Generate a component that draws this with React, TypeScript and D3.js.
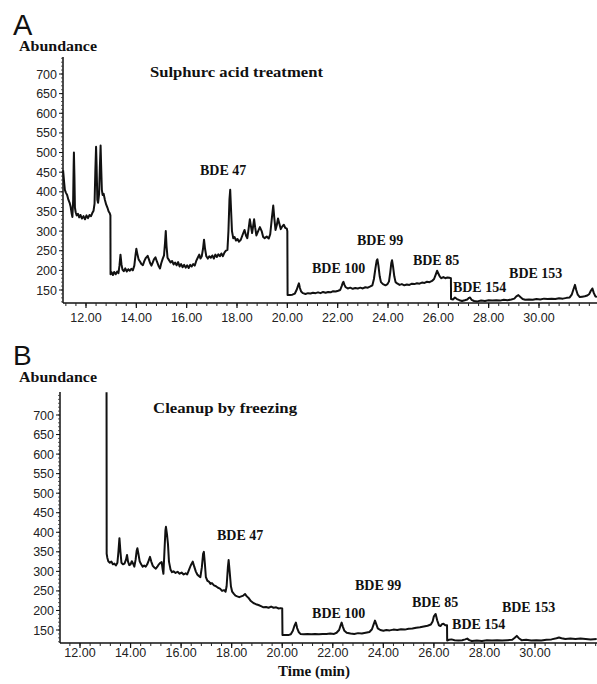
import * as d3 from "d3";

// retention time (min), abundance
const traceA: [number, number][] = [
  [11.09, 455], [11.11, 440], [11.13, 425], [11.16, 405], [11.2, 398], [11.25, 392], [11.3, 380], [11.35, 372],
  [11.39, 362], [11.43, 345], [11.46, 336], [11.49, 380], [11.51, 470], [11.52, 500], [11.54, 440], [11.56, 360],
  [11.59, 348], [11.63, 340], [11.68, 344], [11.73, 335], [11.78, 341], [11.84, 332], [11.9, 338], [11.96, 330],
  [12.02, 340], [12.08, 333], [12.14, 341], [12.2, 338], [12.25, 346], [12.3, 352], [12.34, 370], [12.37, 450],
  [12.4, 515], [12.42, 470], [12.45, 380], [12.48, 372], [12.52, 395], [12.55, 460], [12.58, 518], [12.6, 470],
  [12.63, 405], [12.66, 392], [12.7, 395], [12.75, 380], [12.8, 368], [12.85, 360], [12.9, 350], [12.94, 346],
  [12.97, 340], [12.975, 190], [13.02, 195], [13.07, 188], [13.12, 196], [13.18, 190], [13.24, 197], [13.29, 193],
  [13.33, 212], [13.37, 240], [13.41, 215], [13.45, 202], [13.5, 198], [13.56, 205], [13.62, 197], [13.68, 203],
  [13.74, 199], [13.8, 204], [13.86, 200], [13.92, 212], [13.97, 240], [14.0, 255], [14.04, 242], [14.09, 228],
  [14.15, 222], [14.2, 216], [14.26, 213], [14.32, 224], [14.38, 232], [14.45, 237], [14.5, 228], [14.55, 218],
  [14.6, 212], [14.65, 220], [14.7, 228], [14.76, 233], [14.82, 222], [14.88, 212], [14.94, 205], [14.99, 218],
  [15.05, 230], [15.1, 238], [15.14, 270], [15.17, 300], [15.2, 262], [15.24, 232], [15.3, 226], [15.36, 220],
  [15.42, 224], [15.48, 215], [15.54, 220], [15.6, 213], [15.66, 221], [15.72, 210], [15.78, 216], [15.84, 208],
  [15.9, 214], [15.96, 207], [16.02, 213], [16.08, 206], [16.14, 214], [16.2, 210], [16.26, 216], [16.32, 212],
  [16.38, 224], [16.44, 232], [16.5, 240], [16.55, 230], [16.6, 236], [16.65, 255], [16.69, 278], [16.73, 255],
  [16.78, 236], [16.84, 230], [16.9, 236], [16.96, 232], [17.02, 238], [17.08, 230], [17.14, 240], [17.2, 234],
  [17.26, 241], [17.32, 236], [17.38, 243], [17.44, 236], [17.5, 245], [17.56, 250], [17.62, 252], [17.66, 300],
  [17.7, 380], [17.73, 405], [17.76, 360], [17.8, 300], [17.85, 282], [17.9, 285], [17.96, 276], [18.02, 280],
  [18.08, 273], [18.15, 278], [18.22, 290], [18.3, 303], [18.36, 288], [18.41, 282], [18.46, 305], [18.51, 330],
  [18.56, 310], [18.6, 295], [18.64, 312], [18.68, 330], [18.72, 310], [18.77, 289], [18.84, 300], [18.91, 310],
  [18.98, 300], [19.04, 285], [19.1, 282], [19.18, 286], [19.26, 281], [19.32, 292], [19.38, 330], [19.44, 365],
  [19.48, 335], [19.53, 303], [19.58, 315], [19.63, 332], [19.68, 320], [19.74, 305], [19.8, 312], [19.86, 316],
  [19.92, 308], [19.98, 306], [20.0, 300], [20.01, 137], [20.1, 137], [20.2, 138], [20.3, 141], [20.38, 152],
  [20.43, 162], [20.46, 167], [20.5, 155], [20.55, 146], [20.62, 142], [20.72, 140], [20.82, 142], [20.92, 141],
  [21.02, 143], [21.12, 142], [21.22, 144], [21.32, 142], [21.42, 145], [21.52, 143], [21.62, 145], [21.72, 144],
  [21.82, 147], [21.92, 146], [22.02, 148], [22.1, 150], [22.16, 160], [22.2, 168], [22.23, 171], [22.27, 163],
  [22.32, 157], [22.4, 154], [22.5, 156], [22.6, 153], [22.7, 155], [22.8, 154], [22.9, 156], [23.0, 154],
  [23.1, 157], [23.2, 156], [23.3, 159], [23.38, 162], [23.44, 178], [23.5, 205], [23.55, 225], [23.58, 228],
  [23.62, 212], [23.67, 185], [23.72, 170], [23.8, 165], [23.9, 162], [23.98, 165], [24.04, 172], [24.09, 195],
  [24.13, 218], [24.16, 226], [24.2, 210], [24.25, 185], [24.3, 170], [24.38, 166], [24.46, 163], [24.55, 165],
  [24.65, 162], [24.75, 164], [24.85, 163], [24.95, 166], [25.05, 165], [25.15, 167], [25.25, 166], [25.35, 169],
  [25.45, 168], [25.55, 171], [25.65, 170], [25.75, 173], [25.83, 178], [25.9, 190], [25.95, 199], [26.0, 192],
  [26.06, 184], [26.12, 180], [26.2, 183], [26.28, 180], [26.36, 182], [26.44, 181], [26.5, 180], [26.505, 127],
  [26.58, 126], [26.66, 131], [26.74, 127], [26.84, 124], [26.94, 122], [27.05, 124], [27.15, 126], [27.22, 130],
  [27.26, 131], [27.32, 125], [27.42, 122], [27.55, 121], [27.7, 123], [27.85, 122], [28.0, 124], [28.15, 123],
  [28.3, 124], [28.45, 123], [28.6, 125], [28.75, 124], [28.9, 126], [29.02, 128], [29.1, 134], [29.18, 137],
  [29.26, 132], [29.35, 127], [29.45, 125], [29.6, 126], [29.75, 125], [29.9, 127], [30.05, 126], [30.2, 128],
  [30.35, 127], [30.5, 128], [30.65, 127], [30.8, 129], [30.95, 128], [31.1, 130], [31.22, 131], [31.3, 138],
  [31.37, 152], [31.43, 163], [31.48, 150], [31.54, 138], [31.62, 132], [31.72, 133], [31.82, 134], [31.92, 136],
  [32.0, 140], [32.06, 148], [32.12, 154], [32.18, 142], [32.24, 134], [32.3, 132],
];

const traceB: [number, number][] = [
  [13.05, 758], [13.055, 345], [13.08, 335], [13.12, 326], [13.18, 322], [13.24, 325], [13.3, 318], [13.36, 320],
  [13.42, 315], [13.48, 322], [13.52, 350], [13.56, 385], [13.6, 350], [13.64, 322], [13.7, 318], [13.76, 320],
  [13.82, 330], [13.86, 342], [13.9, 325], [13.95, 316], [14.0, 318], [14.05, 326], [14.1, 320], [14.15, 312],
  [14.2, 330], [14.24, 352], [14.27, 359], [14.31, 345], [14.36, 326], [14.42, 318], [14.48, 312], [14.54, 315],
  [14.6, 312], [14.66, 318], [14.72, 328], [14.77, 337], [14.82, 325], [14.88, 314], [14.94, 310], [15.0, 307],
  [15.06, 312], [15.12, 318], [15.18, 322], [15.23, 324], [15.27, 305], [15.3, 294], [15.34, 350], [15.38, 405],
  [15.4, 414], [15.44, 395], [15.48, 370], [15.52, 325], [15.58, 305], [15.64, 298], [15.7, 300], [15.78, 296],
  [15.86, 299], [15.94, 294], [16.02, 297], [16.1, 292], [16.18, 295], [16.24, 292], [16.3, 302], [16.38, 315],
  [16.46, 325], [16.52, 312], [16.58, 300], [16.64, 292], [16.7, 288], [16.76, 285], [16.82, 310], [16.87, 345],
  [16.9, 350], [16.94, 320], [16.98, 285], [17.04, 276], [17.1, 274], [17.16, 268], [17.22, 270], [17.3, 264],
  [17.38, 262], [17.46, 258], [17.54, 256], [17.62, 250], [17.7, 252], [17.76, 248], [17.8, 262], [17.85, 310],
  [17.88, 329], [17.92, 300], [17.97, 262], [18.02, 248], [18.08, 243], [18.15, 238], [18.22, 236], [18.3, 234],
  [18.38, 236], [18.46, 238], [18.53, 242], [18.6, 236], [18.68, 231], [18.76, 224], [18.86, 219], [18.96, 216],
  [19.06, 214], [19.16, 211], [19.26, 208], [19.36, 209], [19.46, 207], [19.56, 210], [19.66, 207], [19.76, 208],
  [19.86, 205], [19.94, 206], [20.0, 205], [20.01, 137], [20.12, 137], [20.24, 137], [20.34, 139], [20.42, 148],
  [20.49, 162], [20.54, 169], [20.59, 155], [20.65, 145], [20.72, 140], [20.85, 139], [21.0, 140], [21.15, 139],
  [21.3, 140], [21.45, 139], [21.6, 140], [21.75, 140], [21.9, 141], [22.05, 140], [22.15, 143], [22.25, 150],
  [22.31, 162], [22.35, 169], [22.4, 158], [22.46, 148], [22.55, 143], [22.7, 141], [22.85, 140], [23.0, 142],
  [23.15, 141], [23.3, 143], [23.45, 145], [23.55, 152], [23.62, 165], [23.67, 174], [23.72, 165], [23.78, 154],
  [23.88, 150], [24.0, 148], [24.12, 150], [24.25, 149], [24.4, 151], [24.55, 150], [24.7, 152], [24.85, 151],
  [25.0, 153], [25.15, 154], [25.3, 156], [25.45, 157], [25.6, 159], [25.75, 161], [25.88, 164], [25.95, 172],
  [26.0, 185], [26.07, 191], [26.13, 175], [26.2, 162], [26.26, 160], [26.32, 165], [26.38, 166], [26.45, 162],
  [26.52, 162], [26.525, 123], [26.6, 125], [26.7, 126], [26.82, 124], [26.97, 123], [27.12, 124], [27.24, 126],
  [27.32, 128], [27.4, 124], [27.5, 122], [27.7, 123], [27.9, 122], [28.1, 124], [28.3, 123], [28.5, 124],
  [28.7, 123], [28.9, 124], [29.1, 125], [29.2, 130], [29.28, 135], [29.36, 129], [29.47, 124], [29.65, 125],
  [29.85, 123], [30.05, 124], [30.25, 123], [30.45, 125], [30.65, 126], [30.85, 129], [30.95, 131], [31.05, 129],
  [31.2, 127], [31.4, 128], [31.6, 127], [31.8, 128], [32.0, 127], [32.2, 126], [32.44, 127],
];

const yTickValues = [150, 200, 250, 300, 350, 400, 450, 500, 550, 600, 650, 700];
const xTickValues = [12, 14, 16, 18, 20, 22, 24, 26, 28, 30];
const peakNames = ["BDE 47", "BDE 100", "BDE 99", "BDE 85", "BDE 154", "BDE 153"];
const panelLetters = ["A", "B"];
const panelTitles = ["Sulphurc acid treatment", "Cleanup by freezing"];

// label anchors (left, baseline) in data units, same order as peakNames
const peakPosA: [number, number][] = [[16.53, 443], [20.98, 193], [22.77, 265], [24.99, 214], [26.58, 145], [28.81, 181]];
const peakPosB: [number, number][] = [[17.42, 380], [21.18, 181], [22.88, 252], [25.13, 209], [26.72, 153], [28.69, 196]];

const W = 597;
const H = 684;
const serif = "'Liberation Serif', 'DejaVu Serif', serif";
const sans = "'Liberation Sans', Arial, sans-serif";

const panels = [
  {
    trace: traceA, peaks: peakPosA, title: [14.54, 692] as [number, number], titleLen: 173,
    left: 63, right: 597, top: 57, bottom: 303,
    xRef: [86, 539], yRef: [290, 74],
    letterY: 35, letterSize: 29, abundY: 51, xLabelY: 322,
  },
  {
    trace: traceB, peaks: peakPosB, title: [14.89, 705] as [number, number], titleLen: 144,
    left: 60, right: 597, top: 392, bottom: 643,
    xRef: [80, 535], yRef: [630, 415],
    letterY: 365, letterSize: 28, abundY: 382, xLabelY: 657,
  },
];

function Panel({ p, i }: { p: (typeof panels)[number]; i: number }) {
  const x = d3.scaleLinear().domain([12, 30]).range(p.xRef);
  const y = d3.scaleLinear().domain([150, 700]).range(p.yRef);
  const tMin = x.invert(p.left);
  const tMax = x.invert(p.right);
  const vMin = y.invert(p.bottom);
  const vMax = y.invert(p.top);

  const line = d3
    .line<[number, number]>()
    .x((d) => x(d[0]))
    .y((d) => y(Math.min(d[1], vMax)));

  const minorX = d3.range(11.2, 32.6, 0.4).filter((t) => t >= tMin && t <= tMax);
  const minorY = d3.range(120, 760, 10).filter((v) => v >= vMin && v <= vMax);

  return (
    <g>
      <text x={13} y={p.letterY} fontFamily={sans} fontSize={p.letterSize} fill="#111">
        {panelLetters[i]}
      </text>
      <text x={19} y={p.abundY} fontFamily={serif} fontWeight="bold" fontSize={15}
        textLength={78} lengthAdjust="spacingAndGlyphs" fill="#111">
        Abundance
      </text>
      <text x={x(p.title[0])} y={y(p.title[1])} fontFamily={serif} fontWeight="bold" fontSize={15}
        textLength={p.titleLen} lengthAdjust="spacingAndGlyphs" fill="#111">
        {panelTitles[i]}
      </text>

      {/* y axis */}
      <line x1={p.left} x2={p.left} y1={p.top} y2={p.bottom} stroke="#111" strokeWidth={1.5} />
      {minorY.map((v) => (
        <line key={"my" + v} x1={p.left - 2} x2={p.left} y1={y(v)} y2={y(v)} stroke="#333" strokeWidth={0.8} />
      ))}
      {yTickValues.map((v) => (
        <g key={"y" + v}>
          <line x1={p.left - 4} x2={p.left} y1={y(v)} y2={y(v)} stroke="#111" strokeWidth={1} />
          <text x={p.left - 6} y={y(v)} dy="0.36em" textAnchor="end" fontFamily={sans} fontSize={12.5} fill="#222">
            {v}
          </text>
        </g>
      ))}

      {/* x axis */}
      <line x1={p.left} x2={p.right} y1={p.bottom} y2={p.bottom} stroke="#111" strokeWidth={1.5} />
      {minorX.map((t) => (
        <line key={"mx" + t} x1={x(t)} x2={x(t)} y1={p.bottom} y2={p.bottom + 3} stroke="#222" strokeWidth={1} />
      ))}
      {xTickValues.map((t) => (
        <g key={"x" + t}>
          <line x1={x(t)} x2={x(t)} y1={p.bottom} y2={p.bottom + 5} stroke="#111" strokeWidth={1.2} />
          <text x={x(t)} y={p.xLabelY} textAnchor="middle" fontFamily={sans} fontSize={12.5} fill="#222">
            {d3.format(".2f")(t)}
          </text>
        </g>
      ))}

      <path d={line(p.trace) ?? ""} fill="none" stroke="#111" strokeWidth={2} strokeLinejoin="round" />

      {peakNames.map((name, k) => (
        <text key={name} x={x(p.peaks[k][0])} y={y(p.peaks[k][1])} fontFamily={serif} fontWeight="bold"
          fontSize={14} fill="#111">
          {name}
        </text>
      ))}
    </g>
  );
}

export default function App() {
  return (
    <svg width={W} height={H} viewBox={`0 0 ${W} ${H}`}
      style={{ position: "absolute", left: 0, top: 0, background: "#fff" }}>
      {panels.map((p, i) => (
        <Panel key={i} p={p} i={i} />
      ))}
      <text x={278} y={676} fontFamily={serif} fontWeight="bold" fontSize={14}
        textLength={72} lengthAdjust="spacingAndGlyphs" fill="#111">
        Time (min)
      </text>
    </svg>
  );
}
